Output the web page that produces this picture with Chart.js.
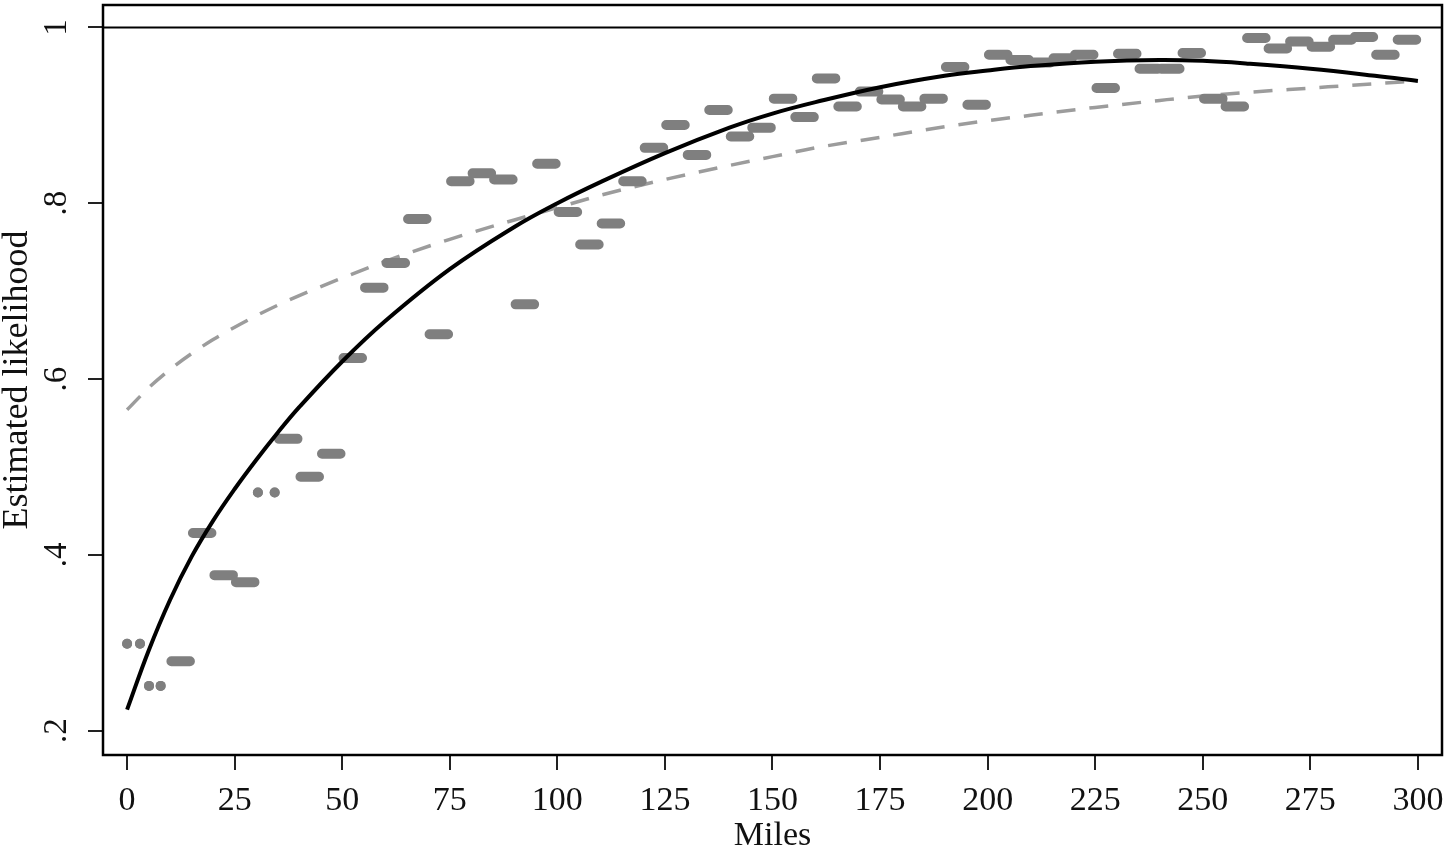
<!DOCTYPE html>
<html>
<head>
<meta charset="utf-8">
<title>Estimated likelihood by miles</title>
<script src="https://cdn.jsdelivr.net/npm/chart.js@4.4.1/dist/chart.umd.min.js"></script>
<style>
  html, body { margin: 0; padding: 0; background: #fff; }
  #wrap { width: 1447px; height: 850px; }
</style>
</head>
<body>
<div id="wrap"><canvas id="myChart" width="1447" height="850"></canvas></div>
<script>
// 5-mile bins: lower edge and mean estimated likelihood
const binLow = [0, 5, 10, 15, 20, 25, 30, 35, 40, 45,
                50, 55, 60, 65, 70, 75, 80, 85, 90, 95,
                100, 105, 110, 115, 120, 125, 130, 135, 140, 145,
                150, 155, 160, 165, 170, 175, 180, 185, 190, 195,
                200, 205, 210, 215, 220, 225, 230, 235, 240, 245,
                250, 255, 260, 265, 270, 275, 280, 285, 290, 295];
const binMean = [0.299, 0.251, 0.279, 0.425, 0.377, 0.369, 0.471, 0.532, 0.489, 0.515,
                 0.624, 0.704, 0.732, 0.782, 0.651, 0.825, 0.834, 0.827, 0.685, 0.845,
                 0.790, 0.753, 0.777, 0.825, 0.863, 0.889, 0.855, 0.906, 0.876, 0.886,
                 0.919, 0.898, 0.942, 0.910, 0.927, 0.918, 0.910, 0.919, 0.955, 0.912,
                 0.969, 0.963, 0.960, 0.965, 0.969, 0.931, 0.970, 0.953, 0.953, 0.971,
                 0.919, 0.910, 0.988, 0.976, 0.984, 0.978, 0.986, 0.989, 0.969, 0.986];
// bins where only single miles show up (drawn as dots)
const sparseMiles = { 0: [0, 3], 5: [5.1, 7.8], 30: [30.4, 34.3] };
// observed part of a full bin
const dashFrom = 0.3;
const dashTo = 4.6;

// fitted curves
const fitMiles  = [0, 5, 10, 15, 20, 25, 30, 35, 40, 50, 60, 75, 90, 100, 110,
                   125, 140, 150, 160, 175, 190, 200, 210, 225, 240, 250, 260, 275, 290, 300];
const solidFit  = [0.224, 0.291, 0.349, 0.398, 0.439, 0.475, 0.508, 0.539, 0.568, 0.620,
                   0.666, 0.725, 0.773, 0.800, 0.824, 0.857, 0.886, 0.902, 0.915, 0.932,
                   0.945, 0.951, 0.956, 0.961, 0.963, 0.962, 0.959, 0.953, 0.945, 0.939];
const dashedFit = [0.565, 0.590, 0.611, 0.629, 0.645, 0.659, 0.672, 0.684, 0.695, 0.715,
                   0.734, 0.759, 0.781, 0.795, 0.809, 0.827, 0.843, 0.853, 0.863, 0.875,
                   0.887, 0.894, 0.900, 0.909, 0.917, 0.922, 0.926, 0.931, 0.936, 0.939];

const xTicks = [0, 25, 50, 75, 100, 125, 150, 175, 200, 225, 250, 275, 300];
const yTicks = [0.2, 0.4, 0.6, 0.8, 1];
const yTickLabels = ['.2', '.4', '.6', '.8', '1'];
const refLevel = 1;

const binPoints = [];
binLow.forEach((low, i) => {
  const y = binMean[i];
  if (sparseMiles[low]) {
    sparseMiles[low].forEach(m => {
      binPoints.push({ x: m, y: y, dot: true });
      binPoints.push({ x: m, y: null });
    });
  } else {
    binPoints.push({ x: low + dashFrom, y: y }, { x: low + dashTo, y: y }, { x: low + dashTo, y: null });
  }
});

const frame = {
  id: 'frame',
  beforeDraw(chart) {
    const c = chart.ctx;
    c.save();
    c.fillStyle = '#fff';
    c.fillRect(0, 0, chart.width, chart.height);
    c.restore();
  },
  afterDraw(chart) {
    const c = chart.ctx;
    const a = chart.chartArea;
    const yPix = chart.scales.y.getPixelForValue(refLevel);
    c.save();
    c.strokeStyle = '#000';
    c.lineWidth = 2;
    c.beginPath();
    c.moveTo(a.left, yPix);
    c.lineTo(a.right, yPix);
    c.stroke();
    c.lineWidth = 2.5;
    c.strokeRect(a.left, a.top, a.right - a.left, a.bottom - a.top);
    c.restore();
  }
};

const serif = 'Liberation Serif';

new Chart(document.getElementById('myChart'), {
  type: 'line',
  data: {
    datasets: [
      {
        label: 'Fit',
        data: fitMiles.map((m, i) => ({ x: m, y: solidFit[i] })),
        borderColor: '#000',
        borderWidth: 4,
        pointRadius: 0,
        tension: 0.4,
        fill: false
      },
      {
        label: 'Binned means',
        data: binPoints,
        borderColor: '#7f7f7f',
        borderWidth: 10,
        borderCapStyle: 'round',
        pointRadius: ctx => (ctx.raw && ctx.raw.dot ? 5 : 0),
        pointBackgroundColor: '#7f7f7f',
        pointBorderWidth: 0,
        spanGaps: false,
        tension: 0,
        fill: false
      },
      {
        label: 'Log fit',
        data: fitMiles.map((m, i) => ({ x: m, y: dashedFit[i] })),
        borderColor: '#9c9c9c',
        borderWidth: 3.5,
        borderDash: [19, 14],
        pointRadius: 0,
        cubicInterpolationMode: 'monotone',
        fill: false
      }
    ]
  },
  options: {
    responsive: false,
    devicePixelRatio: 1,
    animation: false,
    layout: { padding: { top: 3, right: 4, left: 0, bottom: 0 } },
    plugins: { legend: { display: false }, tooltip: { enabled: false } },
    scales: {
      x: {
        type: 'linear',
        min: -5.6,
        max: 305.6,
        afterFit: s => { s.height = 95; s.paddingLeft = 0; s.paddingRight = 0; },
        afterBuildTicks: s => { s.ticks = xTicks.map(v => ({ value: v })); },
        border: { display: false },
        grid: { drawOnChartArea: false, drawTicks: true, tickLength: 15, color: '#222', lineWidth: 2 },
        ticks: {
          includeBounds: false,
          padding: 11,
          color: '#111',
          font: { family: serif, size: 34 },
          maxRotation: 0,
          callback: v => String(v)
        },
        title: {
          display: true,
          text: 'Miles',
          color: '#111',
          font: { family: serif, size: 34, lineHeight: 0.8 },
          padding: { top: 0, bottom: 0 }
        }
      },
      y: {
        min: 0.1724,
        max: 1.0255,
        afterFit: s => { s.width = 103; s.paddingTop = 0; s.paddingBottom = 0; },
        afterBuildTicks: s => { s.ticks = yTicks.map(v => ({ value: v })); },
        border: { display: false },
        grid: { drawOnChartArea: false, drawTicks: true, tickLength: 15, color: '#222', lineWidth: 2 },
        ticks: {
          includeBounds: false,
          padding: 18,
          crossAlign: 'center',
          minRotation: 90,
          maxRotation: 90,
          color: '#111',
          font: { family: serif, size: 33 },
          callback: v => yTickLabels[yTicks.indexOf(v)]
        },
        title: {
          display: true,
          text: 'Estimated likelihood',
          color: '#111',
          font: { family: serif, size: 36, lineHeight: 1 },
          padding: { top: 0, bottom: 0 }
        }
      }
    }
  },
  plugins: [frame]
});
</script>
</body>
</html>
